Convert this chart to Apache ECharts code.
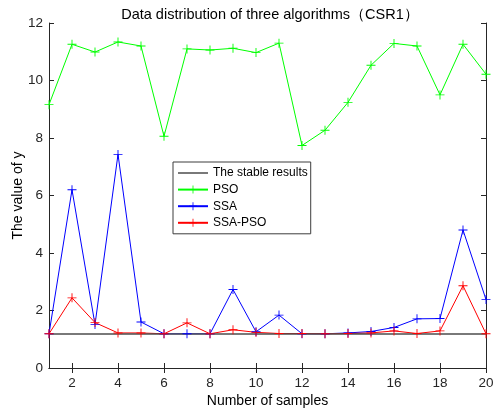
<!DOCTYPE html>
<html>
<head>
<meta charset="utf-8">
<script src="https://cdn.jsdelivr.net/npm/echarts@6/dist/echarts.min.js"></script>
<style>
html,body{margin:0;padding:0;background:#fff;}
#main{width:493px;height:411px;}
</style>
</head>
<body>
<div id="main"></div>
<script>
// 数据
var samples = [1,2,3,4,5,6,7,8,9,10,11,12,13,14,15,16,17,18,19,20];
var pso = [9.16,11.26,10.99,11.34,11.2,8.06,11.1,11.06,11.12,10.97,11.3,7.74,8.27,9.24,10.53,11.29,11.2,9.5,11.26,10.22];
var ssa = [1.19,6.2,1.51,7.43,1.6,1.19,1.19,1.19,2.73,1.26,1.84,1.19,1.19,1.22,1.27,1.41,1.71,1.72,4.8,2.38];
var ssaPso = [1.19,2.44,1.58,1.22,1.22,1.19,1.57,1.19,1.33,1.24,1.2,1.2,1.19,1.2,1.22,1.29,1.2,1.29,2.86,1.19];
var stableX = [1,20];
var stableY = [1.186,1.186];
var xLabels = [2,4,6,8,10,12,14,16,18,20];

var plus = 'path://M4.5,0h1v4.5h4.5v1h-4.5v4.5h-1v-4.5h-4.5v-1h4.5z';
var font = "'Liberation Sans', Arial, sans-serif";
var axisColor = '#262626';

function pair(xs, ys) {
  return xs.map(function (x, i) { return [x, ys[i]]; });
}

function lineSeries(name, data, color) {
  return {
    name: name,
    type: 'line',
    data: pair(samples, data),
    symbol: plus,
    symbolSize: 9,
    lineStyle: { color: color, width: 1 },
    itemStyle: { color: color },
    animation: false
  };
}

var chart = echarts.init(document.getElementById('main'));
var option = {
  backgroundColor: '#fff',
  textStyle: { fontFamily: font },
  title: {
    text: 'Data distribution of three algorithms（CSR1）',
    left: 265, textAlign: 'center', top: 2,
    textStyle: { fontFamily: font, fontSize: 14.5, fontWeight: 'normal', color: '#000' }
  },
  grid: { left: 49, top: 23, right: 7, bottom: 43, outerBoundsMode: 'none', containLabel: false },
  legend: {
    orient: 'vertical',
    left: 173, top: 162,
    backgroundColor: '#fff',
    borderColor: '#3c3c3c', borderWidth: 1,
    padding: [5, 3, 5, 4],
    itemWidth: 30, itemHeight: 10, itemGap: 4.6,
    textStyle: { fontFamily: font, fontSize: 12, color: '#000' },
    data: [
      { name: 'The stable results', icon: 'path://M0,0h30v1.5h-30z' },
      'PSO', 'SSA', 'SSA-PSO'
    ]
  },
  xAxis: [{
    type: 'value', min: 1, max: 20, interval: 1, position: 'bottom',
    name: 'Number of samples', nameLocation: 'middle', nameGap: 26, nameMoveOverlap: false,
    nameTextStyle: { fontFamily: font, fontSize: 14, color: '#000' },
    axisLine: { lineStyle: { color: axisColor } },
    axisTick: { inside: true, length: 5, customValues: xLabels, lineStyle: { color: axisColor } },
    axisLabel: { customValues: xLabels, fontFamily: font, fontSize: 13.5, color: axisColor, margin: 8 },
    splitLine: { show: false }
  }, {
    type: 'value', min: 1, max: 20, interval: 1, position: 'top',
    axisLine: { lineStyle: { color: axisColor } },
    axisTick: { inside: true, length: 5, customValues: xLabels, lineStyle: { color: axisColor } },
    axisLabel: { show: false },
    splitLine: { show: false }
  }],
  yAxis: [{
    type: 'value', min: 0, max: 12, interval: 2, position: 'left',
    name: 'The value of y', nameLocation: 'middle', nameGap: 24, nameMoveOverlap: false,
    nameTextStyle: { fontFamily: font, fontSize: 14, color: '#000' },
    axisLine: { show: true, lineStyle: { color: axisColor } },
    axisTick: { show: true, inside: true, length: 5, lineStyle: { color: axisColor } },
    axisLabel: { fontFamily: font, fontSize: 13.5, color: axisColor, margin: 6 },
    splitLine: { show: false }
  }, {
    type: 'value', min: 0, max: 12, interval: 2, position: 'right',
    axisLine: { show: true, lineStyle: { color: axisColor } },
    axisTick: { show: true, inside: true, length: 5, lineStyle: { color: axisColor } },
    axisLabel: { show: false },
    splitLine: { show: false }
  }],
  series: [
    lineSeries('PSO', pso, '#00ff00'),
    lineSeries('SSA', ssa, '#0000ff'),
    lineSeries('SSA-PSO', ssaPso, '#ff0000'),
    {
      name: 'The stable results',
      type: 'line',
      data: pair(stableX, stableY),
      symbol: 'none',
      lineStyle: { color: '#4d4d4d', width: 1.5 },
      itemStyle: { color: '#4d4d4d' },
      animation: false
    }
  ]
};
chart.setOption(option);
</script>
</body>
</html>
